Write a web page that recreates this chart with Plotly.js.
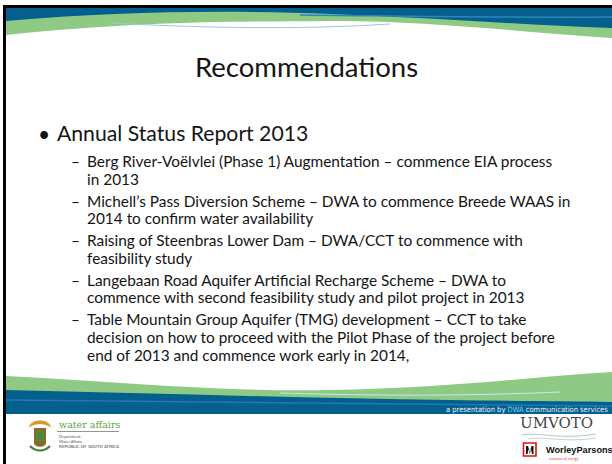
<!DOCTYPE html>
<html>
<head>
<meta charset="utf-8">
<script src="https://cdn.plot.ly/plotly-3.0.1.min.js"></script>
<style>html,body{margin:0;padding:0;background:#fff;overflow:hidden;width:612px;height:464px;}#chart{width:612px;height:464px;overflow:hidden;}</style>
</head>
<body>
<div id="chart"></div>
<script>
// ---- slide content ----
var slideTitle = "Recommendations";
var mainBullet = "Annual Status Report 2013";
var subItems = [
  ["Berg River-Voëlvlei (Phase 1) Augmentation – commence EIA process", "in 2013"],
  ["Michell’s Pass Diversion Scheme – DWA to commence Breede WAAS in", "2014 to confirm water availability"],
  ["Raising of Steenbras Lower Dam – DWA/CCT to commence with", "feasibility study"],
  ["Langebaan Road Aquifer Artificial Recharge Scheme – DWA to", "commence with second feasibility study and pilot project in 2013"],
  ["Table Mountain Group Aquifer (TMG) development – CCT to take", "decision on how to proceed with the Pilot Phase of the project before", "end of 2013 and commence work early in 2014,"]
];
var footerCredit = "a presentation by <span style='color:#7fd0e8'>DWA</span> communication services";
var dwaLines = ["water affairs", "Department:", "Water Affairs", "REPUBLIC OF SOUTH AFRICA"];
var partnerNames = ["UMVOTO", "WorleyParsons", "resources & energy"];

// ---- layout helpers ----
var FONT = "Lato, 'DejaVu Sans', sans-serif";
var TXT = "#141414";
var BLUE = "#035f8e";
var GREEN = "#8fca85";

var ann = [];
function txt(x, y, t, size, opts) {
  var a = {x: x, y: y, xref: "x", yref: "y", text: t, showarrow: false,
    xanchor: "left", yanchor: "middle", font: {family: FONT, size: size, color: TXT}};
  if (opts) { for (var k in opts) { if (k === "font") { for (var f in opts.font) a.font[f] = opts.font[f]; } else a[k] = opts[k]; } }
  ann.push(a);
}

txt(306, 66, slideTitle, 27.5, {xanchor: "center"});
txt(36, 133, "•", 21);
txt(55, 133, mainBullet, 21.2);

var y0 = 161, lineStep = 17.6, itemStep = 39.6;
subItems.forEach(function (lines, i) {
  var yy = y0 + i * itemStep;
  txt(69, yy, "–", 15.4);
  lines.forEach(function (ln, j) { txt(85, yy + j * lineStep, ln, 15.4); });
});

// footer credit
txt(610, 409, footerCredit, 7.5, {xanchor: "right", font: {color: "#e8f2f7", family: "'Liberation Sans Narrow', 'DejaVu Sans Condensed', sans-serif"}});
// dwa logo text
txt(57, 424, dwaLines[0], 9.5, {font: {color: "#5aa84a", family: "'DejaVu Serif', serif"}});
txt(57, 436, dwaLines[1], 4, {font: {color: "#555"}});
txt(57, 441, dwaLines[2], 4, {font: {color: "#555"}});
txt(57, 446, dwaLines[3], 4.2, {font: {color: "#333", family: "'DejaVu Sans', sans-serif"}});
// partners
txt(556, 423, partnerNames[0], 15, {xanchor: "center", font: {color: "#3c4848", family: "'DejaVu Serif', serif"}});
txt(544, 450, "<b>" + partnerNames[1] + "</b>", 9.2, {font: {color: "#111", family: "'Liberation Sans', Arial, sans-serif"}});
txt(547, 459, partnerNames[2], 3.5, {font: {color: "#e33"}});

var shapes = [
  // white slide body drawn first on top layer
  {type: "rect", x0: 0, x1: 612, y0: 0, y1: 464, fillcolor: "#ffffff", line: {width: 0}},
  // header green wave
  {type: "path", path: "M6,8 L612,8 L612,38 C520,32 420,20 330,21 C250,22 150,20 6,35 Z", fillcolor: GREEN, line: {width: 0}},
  // header blue band
  {type: "path", path: "M6,8 L612,8 L612,28 C520,25 440,18 330,14 C230,10 120,11 6,21 Z", fillcolor: BLUE, line: {width: 0}},
  // light stripe in blue
  {type: "path", path: "M300,15 C400,16 500,18 612,17", line: {color: "#2a86b8", width: 1.5}},
  // light blue thin line
  {type: "path", path: "M110,23 C200,28 300,30 390,24", line: {color: "#9cc8dc", width: 1}},
  // footer green wave
  {type: "path", path: "M6,376 C120,382 220,392 330,390 C450,388 540,376 612,372 L612,402 L6,402 Z", fillcolor: GREEN, line: {width: 0}},
  // footer blue band
  {type: "path", path: "M6,390 C150,393 300,398 450,400 C520,401 570,401 612,402 L612,414 L6,414 Z", fillcolor: BLUE, line: {width: 0}},
  {type: "path", path: "M6,400 C200,402 400,404 612,406", line: {color: "#1f7bb0", width: 1.5}},
  {type: "path", path: "M280,393 C380,396 470,396 560,392", line: {color: "#c9e6ef", width: 1}},
  // dwa underline
  {type: "line", x0: 57, x1: 119, y0: 431.5, y1: 431.5, line: {color: "#777", width: 0.8}},
  // coat of arms approx
  {type: "path", path: "M29,428 C29,418 51,418 51,428 C47,423 33,423 29,428 Z", fillcolor: "#d99a2b", line: {width: 0}},
  {type: "path", path: "M34,428 L46,428 L46,443 C46,448 34,448 34,443 Z", fillcolor: "#8a6a2a", line: {width: 0}},
  {type: "rect", x0: 36, x1: 44, y0: 431, y1: 441, fillcolor: "#4f8a3a", line: {width: 0}},
  {type: "path", path: "M30,446 C36,452 44,452 50,446", line: {color: "#3f7a34", width: 2}},
  // umvoto waves
  {type: "path", path: "M522,435 C540,432 560,440 596,434", line: {color: "#9fb4c0", width: 0.8}},
  {type: "path", path: "M528,439 C545,436 565,443 596,438", line: {color: "#b8c8d0", width: 0.8}},
  // worley box
  {type: "rect", x0: 523.5, x1: 536, y0: 443, y1: 456, fillcolor: "#fff", line: {color: "#e01010", width: 1.6}},
  {type: "path", path: "M526,454 L526,446 L528,446 L529.8,452 L531.6,446 L533.5,446 L533.5,454 L532,454 L531,449 L529.8,454 L528.5,449 L527.5,454 Z", fillcolor: "#111", line: {width: 0}},
  // slide frame
  {type: "line", x0: 3, x1: 612, y0: 6.5, y1: 6.5, line: {color: "#000", width: 3}},
  {type: "line", x0: 4.5, x1: 4.5, y0: 5, y1: 464, line: {color: "#000", width: 3}}
];

var layout = {
  width: 612, height: 464,
  margin: {l: 0, r: 0, t: 0, b: 0},
  paper_bgcolor: "#fff", plot_bgcolor: "#fff",
  showlegend: false,
  xaxis: {range: [0, 612], visible: false, fixedrange: true, showgrid: false, zeroline: false, showline: false},
  yaxis: {range: [464, 0], visible: false, fixedrange: true, showgrid: false, zeroline: false, showline: false},
  shapes: shapes,
  annotations: ann
};
Plotly.newPlot("chart", [], layout, {staticPlot: true, displayModeBar: false});
</script>
</body>
</html>
